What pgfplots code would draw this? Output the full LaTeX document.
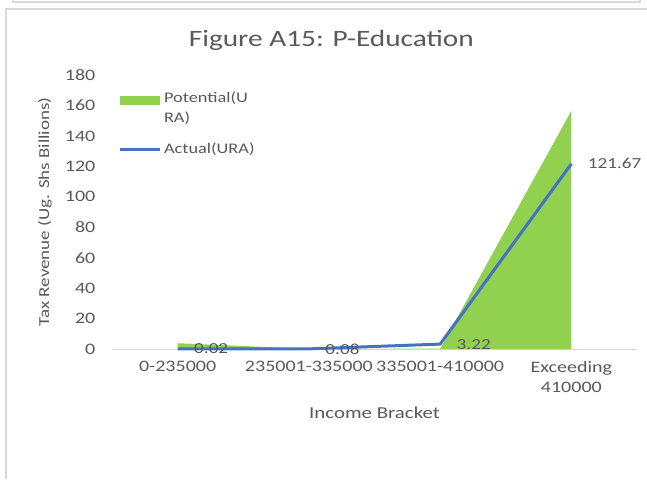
\documentclass[border=0pt]{standalone}
\usepackage{pgfplots}
\pgfplotsset{compat=1.18}
\usepackage{fontspec}
\setmainfont{Carlito}[FakeStretch=1.25]
\definecolor{txt}{HTML}{595959}
\definecolor{areagreen}{HTML}{92D050}
\definecolor{lineblue}{HTML}{4472C4}
\definecolor{frame}{HTML}{D9D9D9}
\begin{document}
\begin{tikzpicture}
\useasboundingbox (0,0) rectangle (485.25pt,359.25pt);
% chart frames
\draw[frame, line width=1.5pt] (4.5pt,0pt) -- (4.5pt,352.5pt) -- (485.25pt,352.5pt);
\draw[frame, line width=1.5pt] (9.75pt,359.5pt) -- (9.75pt,357.4pt) -- (480pt,357.4pt) -- (480pt,359.5pt);
\node[txt, font=\fontsize{17.6}{20}\selectfont] at (248.5pt,329pt) {Figure A15: P-Education};
\begin{axis}[
  at={(84pt,97.5pt)}, anchor=south west,
  scale only axis, width=393.75pt, height=205.5pt,
  xmin=-0.5, xmax=3.5, ymin=0, ymax=180,
  xtick={0,1,2,3},
  xticklabels={0-235000,235001-335000,335001-410000,{Exceeding\\410000}},
  ytick={0,20,...,180},
  /pgf/number format/assume math mode=true,
  axis x line=bottom, axis y line=left,
  axis line style={-}, x axis line style={draw=frame, line width=0.75pt},
  y axis line style={draw=none},
  major tick length=0pt,
  tick label style={txt, font=\fontsize{12}{15.5}\selectfont},
  xticklabel style={align=center, yshift=-5.5pt},
  yticklabel style={xshift=-9pt},
  xlabel={Income Bracket}, ylabel={Tax Revenue (Ug. Shs Billions)},
  xlabel style={txt, font=\fontsize{12.5}{14}\selectfont, at={(axis description cs:0.5,-0.233)}, anchor=center},
  ylabel style={txt, font=\fontsize{11.4}{14}\selectfont, at={(axis description cs:-0.128,0.5)}, anchor=center, rotate=0},
  clip=false,
  legend style={at={(axis description cs:0.004,0.958)}, anchor=north west, draw=none, fill=none,
    font=\fontsize{11}{15}\selectfont, text=txt, cells={anchor=west, align=left}, row sep=9.5pt},
]
\addplot[fill=areagreen, draw=none,
  legend image code/.code={\fill[areagreen] (0pt,2.5pt) rectangle (30pt,9.5pt); \path (0pt,-9pt);}]
  coordinates {(0,3.8) (1,0.1) (2,0.2) (3,156.5)} \closedcycle;
\addlegendentry{Potential(U\\RA)}
\addplot[lineblue, line width=2.25pt,
  legend image code/.code={\draw[lineblue, line width=2.25pt] (0pt,0pt) -- (30pt,0pt);},
  point meta=explicit symbolic, nodes near coords,
  every node near coord/.append style={anchor=west, xshift=8pt, yshift=0pt, text=txt, font=\fontsize{11.5}{13}\selectfont}]
  coordinates {(0,0.02) [0.02] (1,0.08) [0.08] (2,3.22) [3.22] (3,121.67) [121.67]};
\addlegendentry{Actual(URA)}
\end{axis}
\end{tikzpicture}
\end{document}
